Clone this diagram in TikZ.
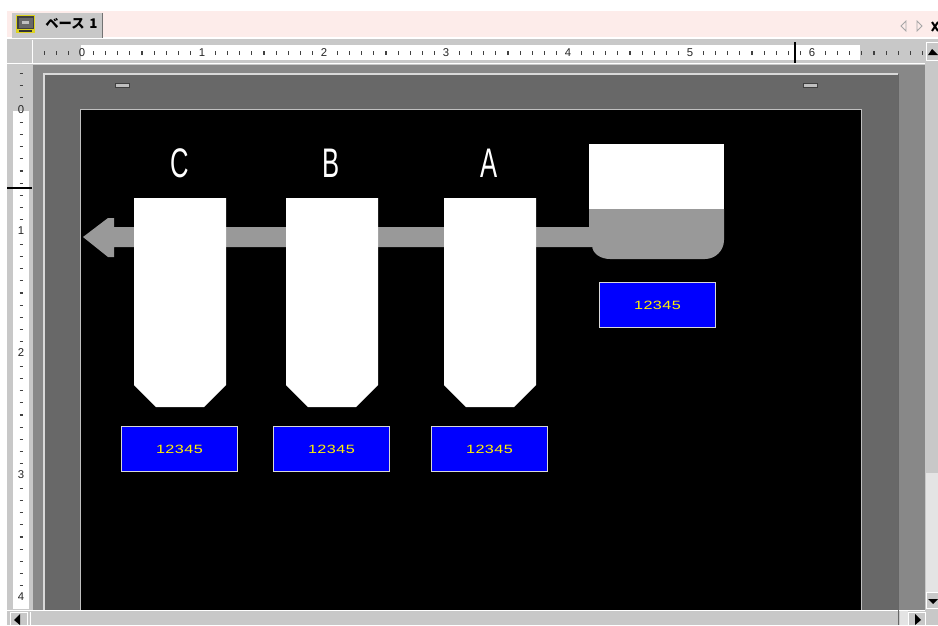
\documentclass[tikz,border=0pt]{standalone}
\usepackage{fontspec}
\setmainfont{Liberation Sans}
\newfontfamily\jpfont{Noto Sans CJK JP}
\newfontfamily\valuefont[FakeStretch=1.35,LetterSpace=4]{Liberation Sans}
\definecolor{uigrey}{HTML}{C8C8C8}
\definecolor{deskgrey}{HTML}{888888}
\definecolor{pagegrey}{HTML}{686868}
\definecolor{pipegrey}{HTML}{999999}
\definecolor{tabpink}{HTML}{FDECEA}
\definecolor{edgegrey}{HTML}{C0C0C0}
\definecolor{dither}{HTML}{E4E4E4}
\tikzset{
  valuebox/.style={draw=white!85!black,line width=0.9pt,fill=blue,text=yellow,minimum width=87pt,minimum height=34pt,inner sep=0pt,font=\valuefont\fontsize{9}{9}\selectfont},
  hopper/.style={fill=white},
  pipe/.style={fill=pipegrey},
  tanklabel/.style={text=white,inner sep=0pt,font=\fontsize{31}{31}\selectfont,xscale=0.62},
  rulernum/.style={inner sep=0pt,font=\fontsize{8.5}{8.5}\selectfont,text=black!85},
  tickmark/.style={black!75,line width=0.8pt},
  uibutton/.style={fill=uigrey,draw=white,line width=0.4pt},
  handlemark/.style={fill=edgegrey,draw=black!75,line width=0.6pt}
}
\begin{document}
\begin{tikzpicture}[x=0.75pt,y=-0.75pt]
\useasboundingbox (0,0) rectangle (938,625);
\fill[white] (0,0) rectangle (938,625);
% window chrome
\fill[tabpink] (7,11) rectangle (938,37);
\fill[uigrey] (7,38) rectangle (938,625);
\fill[white] (0,0) rectangle (7,625);
\fill[uigrey] (12,13) rectangle (102,38);
\draw[black!55,line width=0.6pt] (102.5,13) -- (102.5,38);
\draw[white,line width=0.7pt] (7,38.5) -- (938,38.5);
% tab icon
\fill[yellow!85!black] (16,15) rectangle (35,33);
\fill[black!75] (17,16) rectangle (34,29);
\fill[pagegrey] (18.5,17.5) rectangle (32.5,27.5);
\fill[edgegrey] (22,21) rectangle (29,24);
\fill[black!80] (19,30) rectangle (32,32);
\node[inner sep=0pt,anchor=west,font=\fontsize{10}{10}\selectfont\jpfont\bfseries] (tabtext) at (45,24) {ベース\hspace{3.5pt}1};
% tab arrows
\draw[black!35,line width=0.6pt] (906,21) -- (901,26) -- (906,31) -- cycle;
\draw[black!35,line width=0.6pt] (917,21) -- (922,26) -- (917,31) -- cycle;
\draw[black,line width=1.5pt] (932,22) -- (938,31) (938,22) -- (932,31);
% rulers
\draw[white,line width=0.7pt] (32.5,40) -- (32.5,64) (7,63.5) -- (925,63.5);
\fill[white] (81,45) rectangle (860,60);
\fill[white] (13,111) rectangle (29,609);
\foreach \n in {-3,...,69}{
  \pgfmathtruncatemacro{\rem}{abs(mod(\n,10))}
  \ifnum\rem=0\else
    \pgfmathsetmacro{\tx}{81+12.2*\n}
    \draw[tickmark] (\tx,51) -- (\tx,55);
  \fi
}
\foreach \n/\px in {0/82,1/202,2/324,3/446,4/568,5/690,6/812}{
  \node[rulernum] (rx\n) at (\px,53) {\n};
}
\foreach \n in {-3,...,40}{
  \pgfmathtruncatemacro{\rem}{abs(mod(\n,10))}
  \ifnum\rem=0\else
    \pgfmathsetmacro{\ty}{110+12.2*\n}
    \draw[tickmark] (19.5,\ty) -- (23,\ty);
  \fi
}
\foreach \n/\py in {0/110,1/231,2/353,3/475,4/597}{
  \node[rulernum] (ry\n) at (21,\py) {\n};
}
\draw[black,line width=0.9pt] (795,42) -- (795,63);
\draw[black,line width=0.9pt] (7,188) -- (32,188);
% desk, page and screen
\fill[deskgrey] (33,65) rectangle (925,610);
\fill[pagegrey] (44,74) rectangle (898,610);
\draw[white!85!black,line width=1pt] (44,610) -- (44,74) -- (898,74);
\fill[black] (81,110) rectangle (861,610);
\draw[edgegrey,line width=1pt] (80.5,610) -- (80.5,109.5) -- (861.5,109.5) -- (861.5,610);
\node[handlemark,minimum width=11pt,minimum height=3.5pt,inner sep=0pt] (handleL) at (122.5,85.5) {};
\node[handlemark,minimum width=11pt,minimum height=3.5pt,inner sep=0pt] (handleR) at (810.5,85.5) {};
% scrollbars
\fill[dither] (926,62) rectangle (938,592);
\fill[uigrey] (926,62) rectangle (938,473);
\draw[uibutton] (926,42) rectangle (938,60);
\draw[uibutton] (926,592) rectangle (938,608);
\fill[black] (928,55) -- (932,49) -- (938,55) -- cycle;
\fill[black] (928,599) -- (938,599) -- (933,604) -- cycle;
\fill[uigrey] (7,611) rectangle (938,625);
\draw[white,line width=0.8pt] (7,610.5) -- (925,610.5);
\draw[uibutton] (10,612) rectangle (27,625);
\fill[black] (20,614) -- (14,620) -- (20,625) -- cycle;
\draw[white,line width=0.6pt] (30,612) -- (30,625);
\fill[dither] (900,611) rectangle (908,625);
\draw[uibutton] (908,612) rectangle (925,625);
\fill[black] (915,614) -- (921,620) -- (915,625) -- cycle;
\draw[black!60,line width=1.2pt] (898.5,74) -- (898.5,625);
% tank
\coordinate (pipeend) at (83,237);
\fill[pipe] (590,227) -- (114,227) -- (114,218) -- (108,218) -- (83,237) -- (108,257) -- (114,257) -- (114,247) -- (592,247) -- cycle;
\fill[white] (589,144) rectangle (724,209);
\fill[pipe] (589,209) -- (724,209) -- (724,240) to[out=270,in=0] (705,259) -- (610,259) to[out=180,in=270] (592,245) -- (589,245) -- cycle;
% hoppers
\foreach \nm/\hx in {C/134,B/286,A/444}{
  \fill[hopper] (\hx,198) -- (\hx+92,198) -- (\hx+92,385) -- (\hx+70,407) -- (\hx+22,407) -- (\hx,385) -- cycle;
  \node[tanklabel] (label\nm) at (\hx+45.5,163) {\nm};
  \node[valuebox] (box\nm) at (\hx+45.5,449) {12345};
}
\node[valuebox] (boxT) at (657.5,305) {12345};
\end{tikzpicture}
\end{document}
